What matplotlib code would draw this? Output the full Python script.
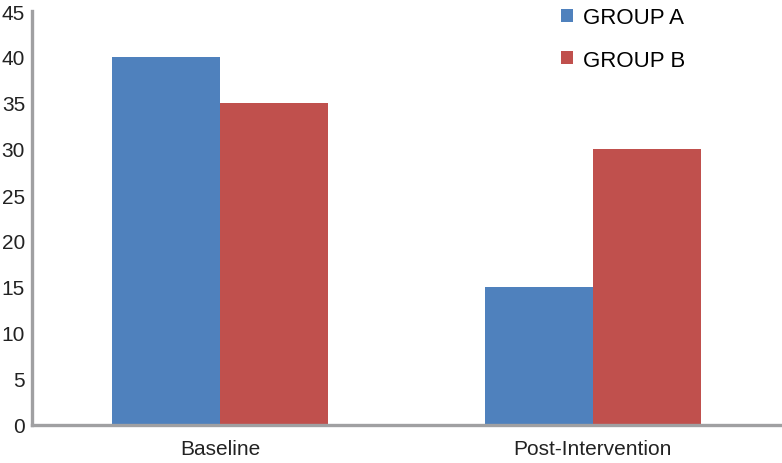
import numpy as np
import matplotlib.pyplot as plt

# datos del gráfico
categorias = ["Baseline", "Post-Intervention"]
grupo_a = [40, 15]
grupo_b = [35, 30]

plt.rcParams['font.family'] = ['Liberation Sans', 'DejaVu Sans']

fig = plt.figure(figsize=(7.82, 4.64), dpi=100)
ax = fig.add_axes([32 / 782, 38 / 464, 750 / 782, 414 / 464])

x = np.arange(len(categorias))
ancho = 0.29
ax.bar(x - ancho / 2, grupo_a, ancho, color='#4F81BD', label='GROUP A')
ax.bar(x + ancho / 2, grupo_b, ancho, color='#C0504D', label='GROUP B')

ax.set_xlim(-0.504, 1.507)
ax.set_ylim(0, 45)
ax.set_yticks(range(0, 46, 5))
ax.set_xticks(x)
ax.set_xticklabels(categorias)

for lado in ['top', 'right']:
    ax.spines[lado].set_visible(False)
for lado in ['left', 'bottom']:
    ax.spines[lado].set_color('#A0A0A2')
    ax.spines[lado].set_linewidth(2.4)

ax.tick_params(axis='y', length=0, labelsize=15, pad=5, labelcolor='#222222')
ax.tick_params(axis='x', length=0, labelsize=15, pad=10, labelcolor='#222222')

ax.legend(loc='upper left', bbox_to_anchor=(557 / 782, 1 - 4 / 464), bbox_transform=fig.transFigure,
          frameon=False, fontsize=16, handlelength=0.5, handleheight=0.5,
          handletextpad=0.45, labelspacing=0.95, borderaxespad=0.0, borderpad=0.2)

plt.savefig('out.png', dpi=100)
